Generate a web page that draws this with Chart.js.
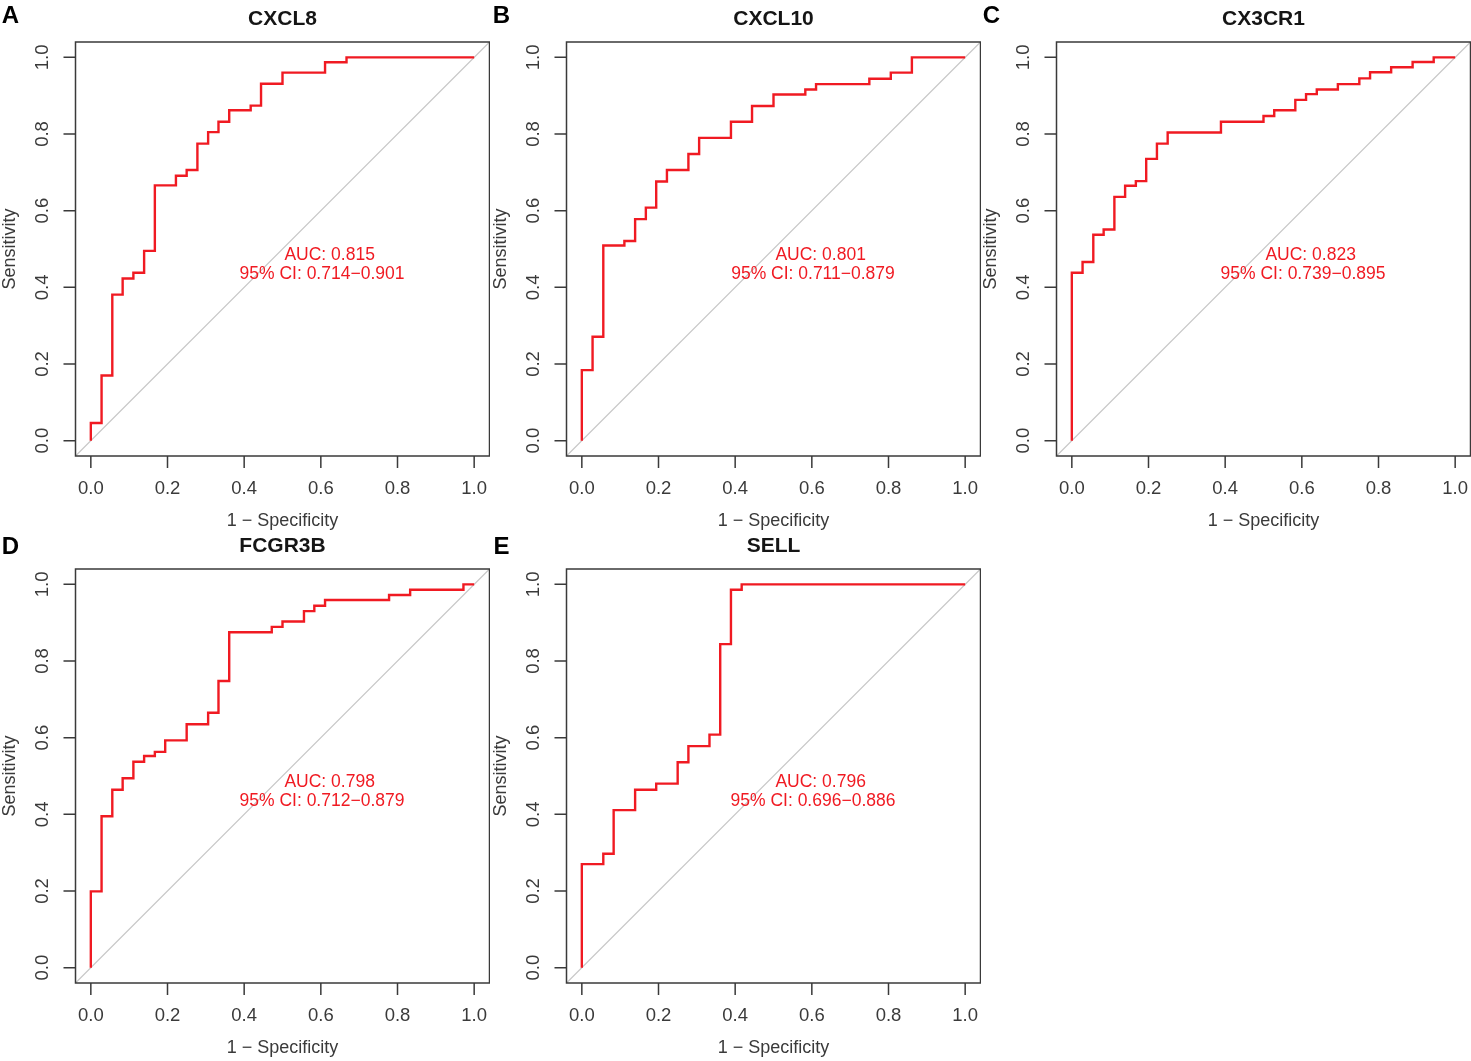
<!DOCTYPE html>
<html>
<head>
<meta charset="utf-8">
<title>ROC curves</title>
<script src="https://cdn.jsdelivr.net/npm/chart.js@4.4.1/dist/chart.umd.min.js"></script>
<style>
    html, body { margin: 0; padding: 0; background: #fff; }
    #wrap { position: relative; width: 1471px; height: 1061px; overflow: hidden; }
    .panel { position: absolute; }
</style>
</head>
<body>
<div id="wrap"></div>
<script>
// values
const genes = ['CXCL8', 'CXCL10', 'CX3CR1', 'FCGR3B', 'SELL'];
const letters = ['A', 'B', 'C', 'D', 'E'];
const aucLabels = ['AUC: 0.815', 'AUC: 0.801', 'AUC: 0.823', 'AUC: 0.798', 'AUC: 0.796'];
const ciLabels = ['95% CI: 0.714\u22120.901', '95% CI: 0.711\u22120.879', '95% CI: 0.739\u22120.895',
                  '95% CI: 0.712\u22120.879', '95% CI: 0.696\u22120.886'];

// step corners of each curve: x = 1 - specificity, y = sensitivity after the rise
const cxcl8Fpr = [0, 0.028, 0.056, 0.083, 0.111, 0.139, 0.167, 0.222, 0.250, 0.278, 0.306, 0.333, 0.361, 0.417, 0.444, 0.500, 0.611, 0.667, 1.0];
const cxcl8Tpr = [0.046, 0.170, 0.381, 0.423, 0.438, 0.495, 0.666, 0.691, 0.706, 0.775, 0.805, 0.832, 0.862, 0.874, 0.931, 0.960, 0.987, 1.0, 1.0];

const cxcl10Fpr = [0, 0.028, 0.056, 0.111, 0.139, 0.167, 0.194, 0.222, 0.278, 0.306, 0.389, 0.444, 0.500, 0.583, 0.611, 0.750, 0.806, 0.861, 1.0];
const cxcl10Tpr = [0.184, 0.271, 0.509, 0.521, 0.578, 0.608, 0.676, 0.706, 0.748, 0.790, 0.832, 0.873, 0.903, 0.916, 0.930, 0.944, 0.960, 1.0, 1.0];

const cx3cr1Fpr = [0, 0.028, 0.056, 0.083, 0.111, 0.139, 0.167, 0.194, 0.222, 0.250, 0.389, 0.500, 0.528, 0.583, 0.611, 0.639, 0.694, 0.750, 0.778, 0.833, 0.889, 0.944, 1.0];
const cx3cr1Tpr = [0.438, 0.466, 0.537, 0.551, 0.636, 0.665, 0.677, 0.735, 0.775, 0.804, 0.832, 0.847, 0.862, 0.889, 0.904, 0.916, 0.930, 0.945, 0.961, 0.974, 0.988, 1.0, 1.0];

const fcgr3bFpr = [0, 0.028, 0.056, 0.083, 0.111, 0.139, 0.167, 0.194, 0.250, 0.306, 0.333, 0.361, 0.472, 0.500, 0.556, 0.583, 0.611, 0.778, 0.833, 0.972, 1.0];
const fcgr3bTpr = [0.199, 0.395, 0.464, 0.494, 0.537, 0.552, 0.563, 0.593, 0.635, 0.665, 0.748, 0.875, 0.889, 0.903, 0.930, 0.944, 0.959, 0.972, 0.986, 1.0, 1.0];

const sellFpr = [0, 0.056, 0.083, 0.139, 0.194, 0.250, 0.278, 0.333, 0.361, 0.389, 0.417, 1.0];
const sellTpr = [0.270, 0.297, 0.411, 0.464, 0.480, 0.536, 0.578, 0.608, 0.844, 0.986, 1.0, 1.0];

const tickValues = [0, 0.2, 0.4, 0.6, 0.8, 1.0];
const tickLabels = ['0.0', '0.2', '0.4', '0.6', '0.8', '1.0'];
const axisMin = -0.04;
const axisMax = 1.04;

const curves = [
    [cxcl8Fpr, cxcl8Tpr],
    [cxcl10Fpr, cxcl10Tpr],
    [cx3cr1Fpr, cx3cr1Tpr],
    [fcgr3bFpr, fcgr3bTpr],
    [sellFpr, sellTpr]
];

// layout
const PANEL_W = 490, PANEL_H = 534;
const COL_STEP = 490.5, ROW_STEP = 527;
const BOX = 414, BOX_LEFT = 75.5, BOX_TOP = 42;
const INK = '#3a3a3a';
const RED = '#f01a22';

function stairs(fpr, tpr) {
    const pts = [{ x: 0, y: 0 }];
    let prev = 0;
    fpr.forEach((fx, i) => {
        pts.push({ x: fx, y: prev });
        pts.push({ x: fx, y: tpr[i] });
        prev = tpr[i];
    });
    return pts;
}

function framePlugin(idx, row) {
    return {
        id: 'rocFrame' + idx,
        afterDraw(chart) {
            const ctx = chart.ctx;
            const a = chart.chartArea;
            const xs = chart.scales.x, ys = chart.scales.y;
            ctx.save();

            // box
            ctx.strokeStyle = INK;
            ctx.lineWidth = 1.5;
            ctx.strokeRect(a.left, a.top, a.right - a.left, a.bottom - a.top);

            // tick marks
            ctx.beginPath();
            tickValues.forEach(v => {
                const px = xs.getPixelForValue(v);
                ctx.moveTo(px, a.bottom);
                ctx.lineTo(px, a.bottom + 12);
                const py = ys.getPixelForValue(v);
                ctx.moveTo(a.left, py);
                ctx.lineTo(a.left - 12, py);
            });
            ctx.stroke();

            // tick labels
            ctx.fillStyle = INK;
            ctx.font = '18.5px "Liberation Sans", Arial, sans-serif';
            ctx.textAlign = 'center';
            ctx.textBaseline = 'middle';
            tickValues.forEach((v, i) => {
                ctx.fillText(tickLabels[i], xs.getPixelForValue(v), a.bottom + 33);
                ctx.save();
                ctx.translate(a.left - 33, ys.getPixelForValue(v));
                ctx.rotate(-Math.PI / 2);
                ctx.fillText(tickLabels[i], 0, 0);
                ctx.restore();
            });

            // axis titles
            ctx.font = '18px "Liberation Sans", Arial, sans-serif';
            ctx.fillText('1 \u2212 Specificity', (a.left + a.right) / 2, a.bottom + 65);
            ctx.save();
            ctx.translate(a.left - 65.5, (a.top + a.bottom) / 2);
            ctx.rotate(-Math.PI / 2);
            ctx.fillText('Sensitivity', 0, 0);
            ctx.restore();

            // title and panel letter
            ctx.fillStyle = '#151515';
            ctx.font = 'bold 21px "Liberation Sans", Arial, sans-serif';
            ctx.fillText(genes[idx], (a.left + a.right) / 2, a.top - 22.5);
            ctx.fillStyle = '#000';
            ctx.font = 'bold 24px "Liberation Sans", Arial, sans-serif';
            ctx.fillText(letters[idx], 10.5, row === 0 ? 16 : 20);

            // AUC text
            ctx.fillStyle = RED;
            ctx.font = '17.5px "Liberation Sans", Arial, sans-serif';
            ctx.fillText(aucLabels[idx], xs.getPixelForValue(0.623), ys.getPixelForValue(0.485));
            ctx.fillText(ciLabels[idx], xs.getPixelForValue(0.603), ys.getPixelForValue(0.434));

            ctx.restore();
        }
    };
}

const wrap = document.getElementById('wrap');
curves.forEach((c, idx) => {
    const row = idx < 3 ? 0 : 1;
    const col = idx % 3;
    const canvas = document.createElement('canvas');
    canvas.className = 'panel';
    canvas.width = PANEL_W;
    canvas.height = PANEL_H;
    canvas.style.width = PANEL_W + 'px';
    canvas.style.height = PANEL_H + 'px';
    canvas.style.left = (col * COL_STEP) + 'px';
    canvas.style.top = (row * ROW_STEP) + 'px';
    wrap.appendChild(canvas);

    new Chart(canvas.getContext('2d'), {
        type: 'scatter',
        data: {
            datasets: [{
                data: stairs(c[0], c[1]),
                showLine: true,
                borderColor: RED,
                borderWidth: 2.4,
                pointRadius: 0,
                tension: 0
            }, {
                data: [{ x: axisMin, y: axisMin }, { x: axisMax, y: axisMax }],
                showLine: true,
                borderColor: '#c8c8c8',
                borderWidth: 1.2,
                pointRadius: 0
            }]
        },
        options: {
            responsive: false,
            animation: false,
            layout: {
                padding: {
                    left: BOX_LEFT,
                    top: BOX_TOP,
                    right: PANEL_W - BOX_LEFT - BOX,
                    bottom: PANEL_H - BOX_TOP - BOX
                }
            },
            plugins: { legend: { display: false }, tooltip: { enabled: false } },
            scales: {
                x: { type: 'linear', min: axisMin, max: axisMax, display: false },
                y: { type: 'linear', min: axisMin, max: axisMax, display: false }
            }
        },
        plugins: [framePlugin(idx, row)]
    });
});
</script>
</body>
</html>
